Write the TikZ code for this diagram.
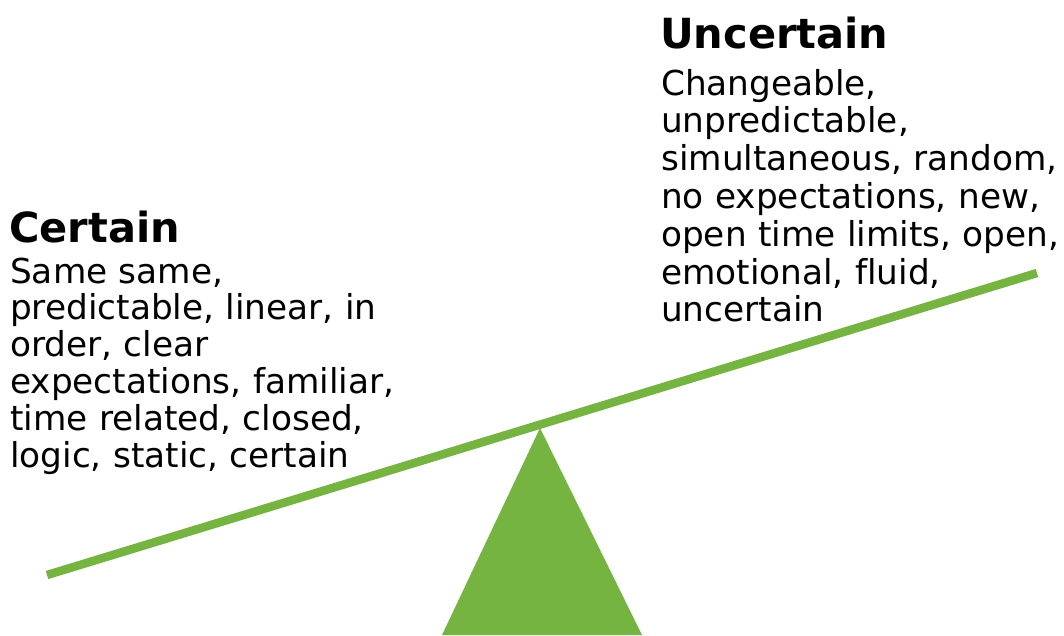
\documentclass[tikz,border=0pt]{standalone}
\usepackage{fontspec}
\setmainfont[Ligatures=NoCommon]{DejaVu Sans}
\definecolor{seesaw}{HTML}{76B442}
\begin{document}
\begin{tikzpicture}[x=1pt,y=-1pt,
  head/.style={anchor=base west,inner sep=0pt,font=\bfseries\fontsize{41.5}{44}\selectfont},
  body/.style={anchor=base west,inner sep=0pt,text width=420pt,align=left},
  beam/.style={line width=8.5pt,draw=seesaw},
  fulcrum/.style={fill=seesaw,draw=none}]
\useasboundingbox (0,0) rectangle (1064,635);
\coordinate (bl) at (47,575);
\coordinate (br) at (1037,273);
\draw[beam] (bl) -- (br);
\coordinate (apex) at (540,428);
\coordinate (base1) at (442,635);
\coordinate (base2) at (642,635);
\fill[fulcrum] (apex) -- (base1) -- (base2) -- cycle;
\node[head] (ch) at (9,242) {Certain};
\node[body,font=\fontsize{34.3}{36.8}\selectfont] (cb) at (10,283) {Same same,\\predictable, linear, in\\order, clear\\expectations, familiar,\\time related, closed,\\logic, static, certain};
\node[head] (uh) at (660,48) {Uncertain};
\node[body,font=\fontsize{34.3}{37.8}\selectfont] (ub) at (661,95) {Changeable,\\unpredictable,\\simultaneous, random,\\no expectations, new,\\open time limits, open,\\emotional, fluid,\\uncertain};
\end{tikzpicture}
\end{document}
